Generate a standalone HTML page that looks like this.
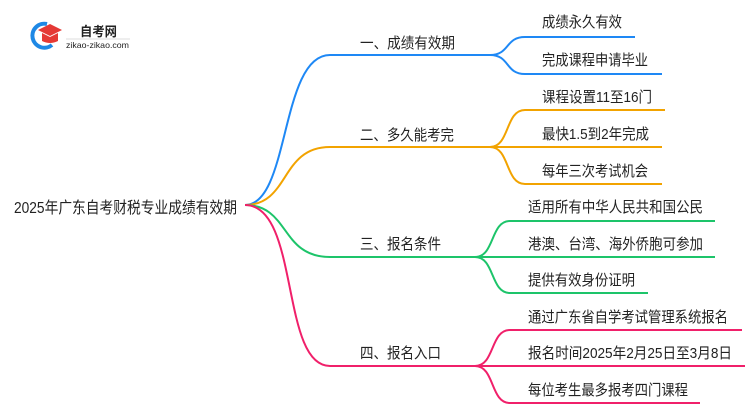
<!DOCTYPE html>
<html><head><meta charset="utf-8"><style>
body{margin:0;width:750px;height:410px;background:#fff;overflow:hidden}
svg text{font-family:"Liberation Sans","Noto Sans CJK SC",sans-serif;fill:#222}
</style></head><body>
<svg width="750" height="410" viewBox="0 0 750 410">
<path d="M47 24 A12 12 0 1 0 52 45" fill="none" stroke="#1e88e5" stroke-width="4"/>
<path d="M38 30 L50 24 L62 30 L50 36 Z" fill="#e53935"/>
<path d="M42 33 L42 41 Q50 45 58 41 L58 33 L50 37 Z" fill="#e53935"/>
<text x="80" y="36" font-size="13" font-weight="bold" fill="#333" textLength="37" lengthAdjust="spacingAndGlyphs">自考网</text>
<line x1="66" y1="39" x2="130" y2="39" stroke="#ddd"/>
<text x="66" y="48" font-size="8.5" fill="#555" textLength="63" lengthAdjust="spacingAndGlyphs">zikao-zikao.com</text>

<g fill="none" stroke-width="2">
<g stroke="#1e88f5">
<path d="M245 205 C290 205 280 55 330 55 L490 55"/>
<path d="M490 55 C510 55 505 37 525 37 L635 37"/>
<path d="M490 55 C510 55 505 74 525 74 L662 74"/>
</g>
<g stroke="#f2a300">
<path d="M245 205 C290 205 280 147 330 147 L490 147"/>
<path d="M490 147 C510 147 505 110 525 110 L665 110"/>
<path d="M490 147 L662 147"/>
<path d="M490 147 C510 147 505 184 525 184 L662 184"/>
</g>
<g stroke="#1dc46a">
<path d="M245 205 C290 205 280 257 330 257 L475 257"/>
<path d="M475 257 C495 257 490 221 510 221 L715 221"/>
<path d="M475 257 L715 257"/>
<path d="M475 257 C495 257 490 293 510 293 L648 293"/>
</g>
<g stroke="#f0206a">
<path d="M245 205 C300 205 280 366 330 366 L475 366"/>
<path d="M475 366 C495 366 490 330 510 330 L742 330"/>
<path d="M475 366 L745 366"/>
<path d="M475 366 C495 366 490 403 510 403 L700 403"/>
</g>
</g>
<g lengthAdjust="spacingAndGlyphs">
<text x="14" y="213" font-size="16" textLength="223" lengthAdjust="spacingAndGlyphs">2025年广东自考财税专业成绩有效期</text>
<text x="360" y="48" font-size="15" textLength="95" lengthAdjust="spacingAndGlyphs">一、成绩有效期</text>
<text x="360" y="140" font-size="15" textLength="94" lengthAdjust="spacingAndGlyphs">二、多久能考完</text>
<text x="360" y="249" font-size="15" textLength="81" lengthAdjust="spacingAndGlyphs">三、报名条件</text>
<text x="360" y="358" font-size="15" textLength="81" lengthAdjust="spacingAndGlyphs">四、报名入口</text>
<text x="542" y="27" font-size="15" textLength="80" lengthAdjust="spacingAndGlyphs">成绩永久有效</text>
<text x="542" y="65" font-size="15" textLength="106" lengthAdjust="spacingAndGlyphs">完成课程申请毕业</text>
<text x="542" y="102" font-size="15" textLength="110" lengthAdjust="spacingAndGlyphs">课程设置11至16门</text>
<text x="542" y="139" font-size="15" textLength="107" lengthAdjust="spacingAndGlyphs">最快1.5到2年完成</text>
<text x="542" y="176" font-size="15" textLength="106" lengthAdjust="spacingAndGlyphs">每年三次考试机会</text>
<text x="528" y="212" font-size="15" textLength="175" lengthAdjust="spacingAndGlyphs">适用所有中华人民共和国公民</text>
<text x="528" y="249" font-size="15" textLength="175" lengthAdjust="spacingAndGlyphs">港澳、台湾、海外侨胞可参加</text>
<text x="528" y="285" font-size="15" textLength="107" lengthAdjust="spacingAndGlyphs">提供有效身份证明</text>
<text x="528" y="322" font-size="15" textLength="200" lengthAdjust="spacingAndGlyphs">通过广东省自学考试管理系统报名</text>
<text x="528" y="358" font-size="15" textLength="204" lengthAdjust="spacingAndGlyphs">报名时间2025年2月25日至3月8日</text>
<text x="528" y="395" font-size="15" textLength="160" lengthAdjust="spacingAndGlyphs">每位考生最多报考四门课程</text>
</g>
</svg>
</body></html>
